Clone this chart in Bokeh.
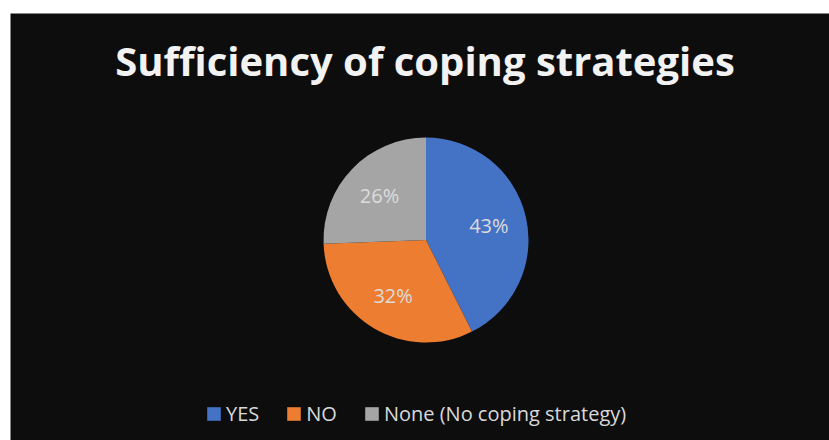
import math
from bokeh.plotting import figure
from bokeh.models import Range1d, Label, Legend, LegendItem, ColumnDataSource, Spacer
from bokeh.layouts import column, row
from bokeh.core.properties import value
from bokeh.embed import file_html
from bokeh.resources import INLINE

# ---- data ----
categories = ["YES", "NO", "None (No coping strategy)"]
shares = [42.6, 31.8, 25.6]
pct_labels = ["43%", "32%", "26%"]
colors = ["#4472C4", "#ED7D31", "#A5A5A5"]
title_text = "Sufficiency of coping strategies"

BG = "#0d0d0d"
W, H = 819, 427
cx, cy, R = 415.5, 200.5, 102.5

total = sum(shares)
starts, ends, lx, ly = [], [], [], []
cum = 0.0
for s in shares:
    f = s / total
    a0 = math.pi / 2 - 2 * math.pi * cum
    a1 = math.pi / 2 - 2 * math.pi * (cum + f)
    am = (a0 + a1) / 2
    starts.append(a0)
    ends.append(a1)
    lx.append(cx + 0.63 * R * math.cos(am))
    ly.append(cy + 0.63 * R * math.sin(am))
    cum += f

src = ColumnDataSource(dict(cat=categories, start=starts, end=ends, color=colors,
                            lab=pct_labels, lx=lx, ly=ly))

p = figure(width=W, height=H, output_backend="svg", toolbar_location=None,
           x_range=Range1d(0, W), y_range=Range1d(0, H), min_border=0)
p.axis.visible = False
p.grid.visible = False
p.outline_line_color = None
p.background_fill_color = BG
p.border_fill_color = BG

r = p.wedge(x=cx, y=cy, radius=R, start_angle="start", end_angle="end",
            direction="clock", fill_color="color", line_color=None, source=src)

p.text(x="lx", y="ly", text="lab", source=src, text_align="center",
       text_baseline="middle", text_color="#dcdcdc", text_font=value("Open Sans"),
       text_font_size="20px")

p.add_layout(Label(x=414.5, y=380, text=title_text, text_align="center",
                   text_baseline="alphabetic", text_color="#f2f2f2",
                   text_font="Open Sans", text_font_style="bold",
                   text_font_size="40px"))

items = [LegendItem(label=c, renderers=[r], index=i) for i, c in enumerate(categories)]
legend = Legend(items=items, orientation="horizontal", location=(195, 13),
                glyph_width=17, glyph_height=17, label_standoff=4, spacing=26,
                padding=0, margin=0, background_fill_alpha=0, border_line_color=None,
                label_text_color="#d9d9d9", label_text_font="Open Sans",
                label_text_font_size="20px")
p.add_layout(legend, "center")

layout = column(Spacer(height=13), row(Spacer(width=10), p))
open("out.html", "w").write(file_html(layout, INLINE))
